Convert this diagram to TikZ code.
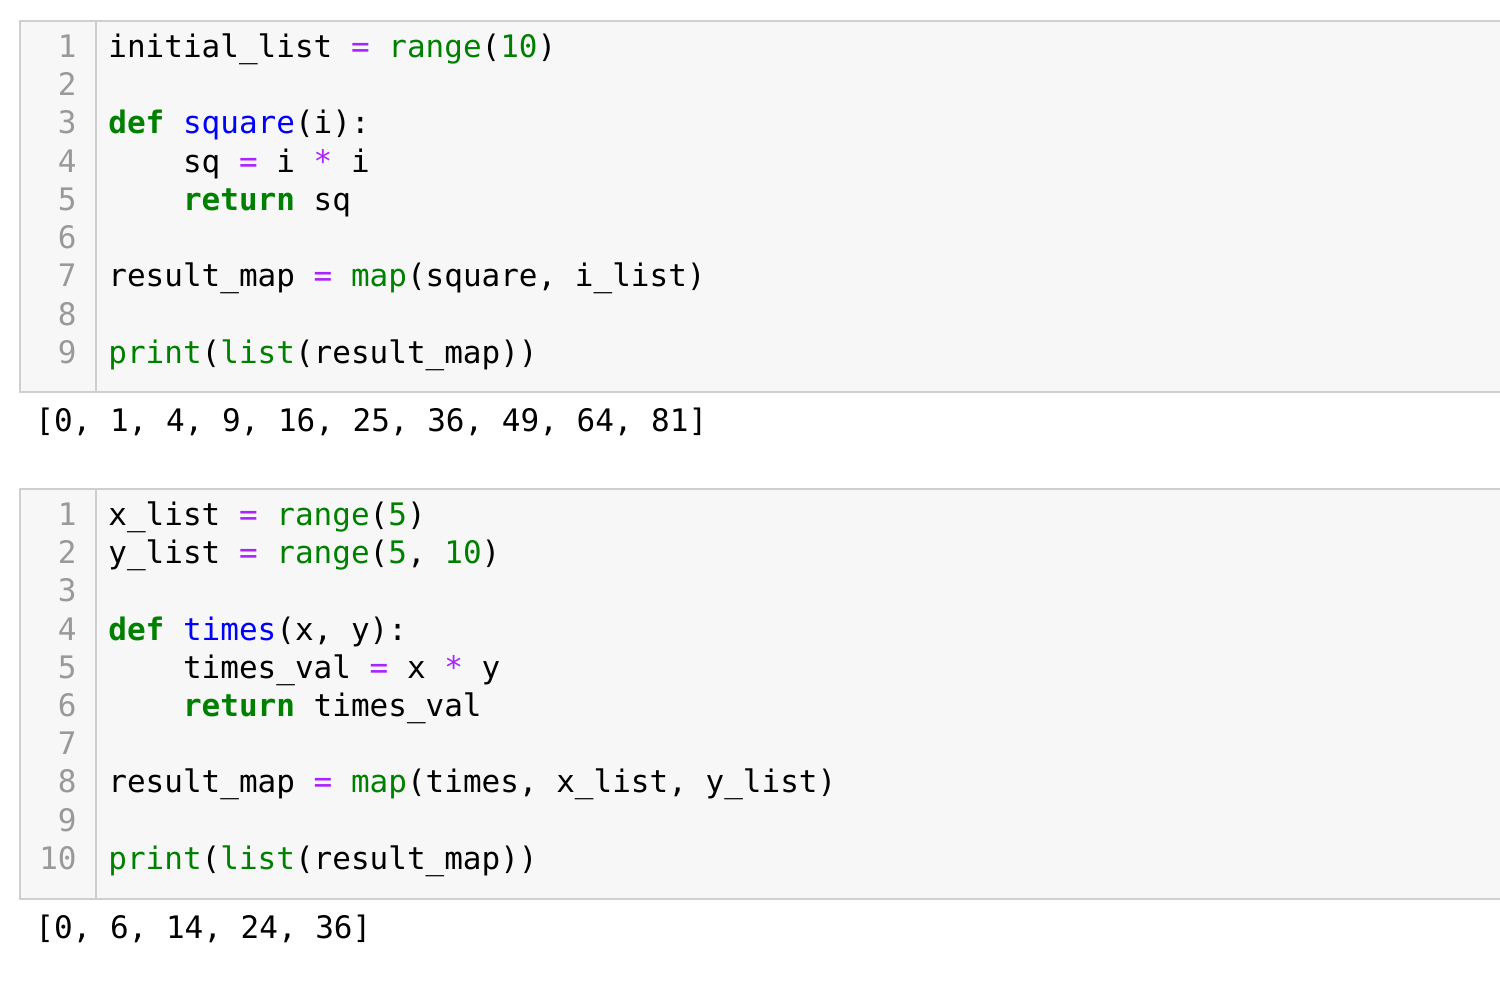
\documentclass[tikz,border=0pt]{standalone}
\usepackage{fontspec}
\setmonofont{DejaVu Sans Mono}
\definecolor{kw}{HTML}{008000}
\definecolor{fnb}{HTML}{0000FF}
\definecolor{opc}{HTML}{AA22FF}
\definecolor{lnum}{HTML}{999999}
\definecolor{cellbg}{HTML}{F7F7F7}
\definecolor{cellbd}{HTML}{CFCFCF}
\newcommand{\kwd}[1]{\textcolor{kw}{\textbf{#1}}}
\newcommand{\grn}[1]{\textcolor{kw}{#1}}
\newcommand{\blu}[1]{\textcolor{fnb}{#1}}
\newcommand{\opr}[1]{\textcolor{opc}{#1}}
\newcommand{\ind}{\phantom{xxxx}}
\begin{document}
\begin{tikzpicture}[x=0.5pt,y=-0.5pt,
  code/.style={anchor=west,inner sep=0,font=\fontsize{15.5}{18}\ttfamily,text height=0.75em,text depth=0.2em},
  num/.style={anchor=east,inner sep=0,font=\fontsize{15.5}{18}\ttfamily,text=lnum,text height=0.75em,text depth=0.2em},
  cell/.style={draw=cellbd,fill=cellbg,line width=1pt}]
\useasboundingbox (0,0) rectangle (1500,983);
\fill[white] (0,0) rectangle (1500,983);
% cell 1
\path[cell] (20,21) rectangle (1510,392);
\draw[cellbd,line width=1pt] (96,21) -- (96,392);
\foreach \i in {1,...,9}{\node[num] (a\i) at (77,{52+38.25*(\i-1)}) {\i};}
\node[code] (c1) at (108,52) {initial\_list \opr{=} \grn{range}(\grn{10})};
\node[code] (c3) at (108,128.5) {\kwd{def} \blu{square}(i):};
\node[code] (c4) at (108,166.75) {\ind sq \opr{=} i \opr{*} i};
\node[code] (c5) at (108,205) {\ind \kwd{return} sq};
\node[code] (c7) at (108,281.5) {result\_map \opr{=} \grn{map}(square, i\_list)};
\node[code] (c9) at (108,358) {\grn{print}(\grn{list}(result\_map))};
\node[code] (o1) at (35,426) {[0, 1, 4, 9, 16, 25, 36, 49, 64, 81]};
% cell 2
\path[cell] (20,489) rectangle (1510,899);
\draw[cellbd,line width=1pt] (96,489) -- (96,899);
\foreach \i in {1,...,10}{\node[num] (b\i) at (77,{520+38.2*(\i-1)}) {\i};}
\node[code] (d1) at (108,520) {x\_list \opr{=} \grn{range}(\grn{5})};
\node[code] (d2) at (108,558.2) {y\_list \opr{=} \grn{range}(\grn{5}, \grn{10})};
\node[code] (d4) at (108,634.6) {\kwd{def} \blu{times}(x, y):};
\node[code] (d5) at (108,672.8) {\ind times\_val \opr{=} x \opr{*} y};
\node[code] (d6) at (108,711) {\ind \kwd{return} times\_val};
\node[code] (d8) at (108,787.4) {result\_map \opr{=} \grn{map}(times, x\_list, y\_list)};
\node[code] (d10) at (108,863.8) {\grn{print}(\grn{list}(result\_map))};
\node[code] (o2) at (35,933) {[0, 6, 14, 24, 36]};
\end{tikzpicture}
\end{document}
